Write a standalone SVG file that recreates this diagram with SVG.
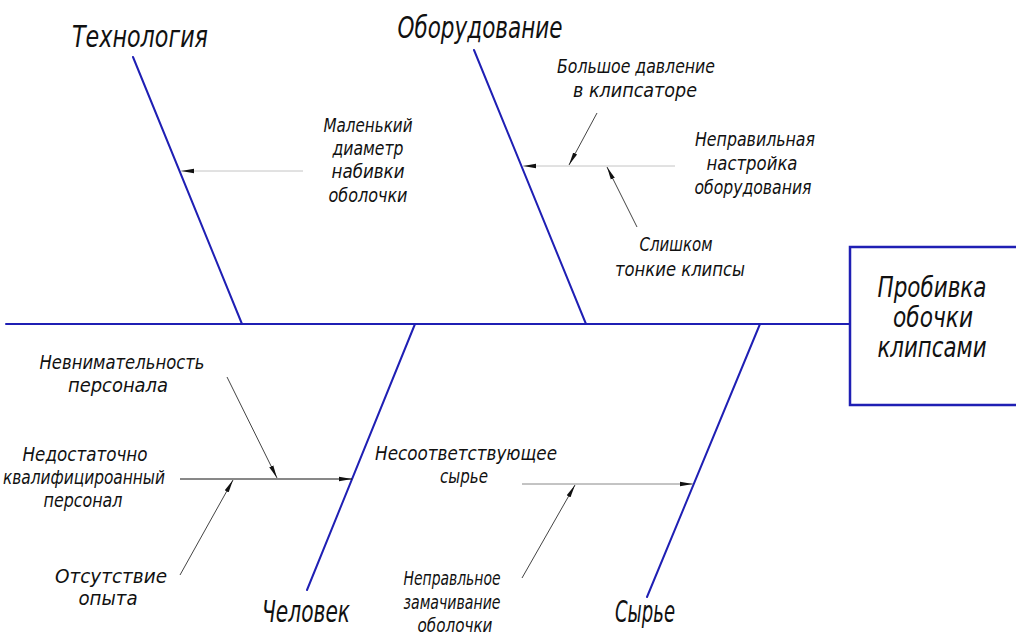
<svg xmlns="http://www.w3.org/2000/svg" width="1016" height="637" viewBox="0 0 1016 637">
<defs>
<marker id="ah" markerUnits="userSpaceOnUse" markerWidth="14" markerHeight="6" refX="13" refY="3" orient="auto">
<path d="M0,0.8 L13,3 L0,5.2 Z" fill="#111"/>
</marker>
</defs>
<style>
.bone{stroke:#1f1fb4;stroke-width:2;fill:none;stroke-linecap:round}
.sub{stroke-width:1;fill:none}
.t{font-family:"DejaVu Sans Condensed","DejaVu Sans",sans-serif;font-stretch:condensed;font-style:italic;font-weight:200;fill:#111;text-anchor:middle}
.s{font-size:19px}
.b{font-size:31px}
.m{font-size:28px}
</style>
<rect width="1016" height="637" fill="#fff"/>
<g id="connectors">
<line class="bone" x1="6" y1="324" x2="850" y2="324"/>
<line class="bone" x1="133" y1="57" x2="242" y2="324"/>
<line class="bone" x1="474" y1="50" x2="586" y2="324"/>
<line class="bone" x1="415" y1="324" x2="307" y2="590"/>
<line class="bone" x1="760" y1="324" x2="647" y2="597"/>
<line class="sub" stroke="#c4c4c4" x1="303" y1="171" x2="181" y2="171" marker-end="url(#ah)"/>
<line class="sub" stroke="#c4c4c4" x1="675" y1="166" x2="523" y2="166" marker-end="url(#ah)"/>
<line class="sub" stroke="#444" x1="597" y1="113" x2="569" y2="165" marker-end="url(#ah)"/>
<line class="sub" stroke="#444" x1="637" y1="227" x2="607" y2="167" marker-end="url(#ah)"/>
<line class="sub" stroke="#111" x1="180" y1="479" x2="352" y2="479" marker-end="url(#ah)"/>
<line class="sub" stroke="#444" x1="227" y1="377" x2="277" y2="478" marker-end="url(#ah)"/>
<line class="sub" stroke="#444" x1="180" y1="575" x2="233" y2="480" marker-end="url(#ah)"/>
<line class="sub" stroke="#888" x1="522" y1="484" x2="693" y2="484" marker-end="url(#ah)"/>
<line class="sub" stroke="#444" x1="522" y1="578" x2="575" y2="485" marker-end="url(#ah)"/>
</g>
<g id="effect">
<path d="M1018,247 H850 V405 H1018" stroke="#1f1fb4" stroke-width="2.5" fill="none"/>
<text class="t m" x="932" y="297" textLength="109" lengthAdjust="spacingAndGlyphs">Пробивка</text>
<text class="t m" x="933" y="327" textLength="80" lengthAdjust="spacingAndGlyphs">обочки</text>
<text class="t m" x="932" y="357" textLength="109" lengthAdjust="spacingAndGlyphs">клипсами</text>
</g>
<g id="technology">
<text class="t b" x="140" y="47" textLength="136" lengthAdjust="spacingAndGlyphs">Технология</text>
</g>
<g id="equipment">
<text class="t b" x="480" y="38" textLength="165" lengthAdjust="spacingAndGlyphs">Оборудование</text>
</g>
<g id="human">
<text class="t b" x="306" y="622" textLength="88" lengthAdjust="spacingAndGlyphs">Человек</text>
</g>
<g id="raw">
<text class="t b" x="645" y="622" textLength="60" lengthAdjust="spacingAndGlyphs">Сырье</text>
</g>
<g id="cause-diameter">
<text class="t s" x="368" y="132" textLength="89" lengthAdjust="spacingAndGlyphs">Маленький</text>
<text class="t s" x="368" y="155" textLength="71" lengthAdjust="spacingAndGlyphs">диаметр</text>
<text class="t s" x="368" y="178" textLength="73" lengthAdjust="spacingAndGlyphs">набивки</text>
<text class="t s" x="368" y="202" textLength="79" lengthAdjust="spacingAndGlyphs">оболочки</text>
</g>
<g id="cause-pressure">
<text class="t s" x="636" y="73" textLength="158" lengthAdjust="spacingAndGlyphs">Большое давление</text>
<text class="t s" x="635" y="97" textLength="124" lengthAdjust="spacingAndGlyphs">в клипсаторе</text>
</g>
<g id="cause-setup">
<text class="t s" x="755" y="146" textLength="120" lengthAdjust="spacingAndGlyphs">Неправильная</text>
<text class="t s" x="752" y="170" textLength="91" lengthAdjust="spacingAndGlyphs">настройка</text>
<text class="t s" x="753" y="194" textLength="117" lengthAdjust="spacingAndGlyphs">оборудования</text>
</g>
<g id="cause-clips">
<text class="t s" x="676" y="251" textLength="73" lengthAdjust="spacingAndGlyphs">Слишком</text>
<text class="t s" x="680" y="276" textLength="130" lengthAdjust="spacingAndGlyphs">тонкие клипсы</text>
</g>
<g id="cause-attention">
<text class="t s" x="122" y="369" textLength="165" lengthAdjust="spacingAndGlyphs">Невнимательность</text>
<text class="t s" x="118" y="392" textLength="100" lengthAdjust="spacingAndGlyphs">персонала</text>
</g>
<g id="cause-qualification">
<text class="t s" x="85" y="461" textLength="125" lengthAdjust="spacingAndGlyphs">Недостаточно</text>
<text class="t s" x="84" y="484" textLength="162" lengthAdjust="spacingAndGlyphs">квалифицироанный</text>
<text class="t s" x="83" y="507" textLength="79" lengthAdjust="spacingAndGlyphs">персонал</text>
</g>
<g id="cause-experience">
<text class="t s" x="111" y="583" textLength="112" lengthAdjust="spacingAndGlyphs">Отсутствие</text>
<text class="t s" x="108" y="605" textLength="59" lengthAdjust="spacingAndGlyphs">опыта</text>
</g>
<g id="cause-material">
<text class="t s" x="466" y="460" textLength="182" lengthAdjust="spacingAndGlyphs">Несоответствующее</text>
<text class="t s" x="464" y="483" textLength="48" lengthAdjust="spacingAndGlyphs">сырье</text>
</g>
<g id="cause-soaking">
<text class="t s" x="452" y="585" textLength="97" lengthAdjust="spacingAndGlyphs">Неправльное</text>
<text class="t s" x="452" y="609" textLength="97" lengthAdjust="spacingAndGlyphs">замачивание</text>
<text class="t s" x="455" y="632" textLength="75" lengthAdjust="spacingAndGlyphs">оболочки</text>
</g>
</svg>
